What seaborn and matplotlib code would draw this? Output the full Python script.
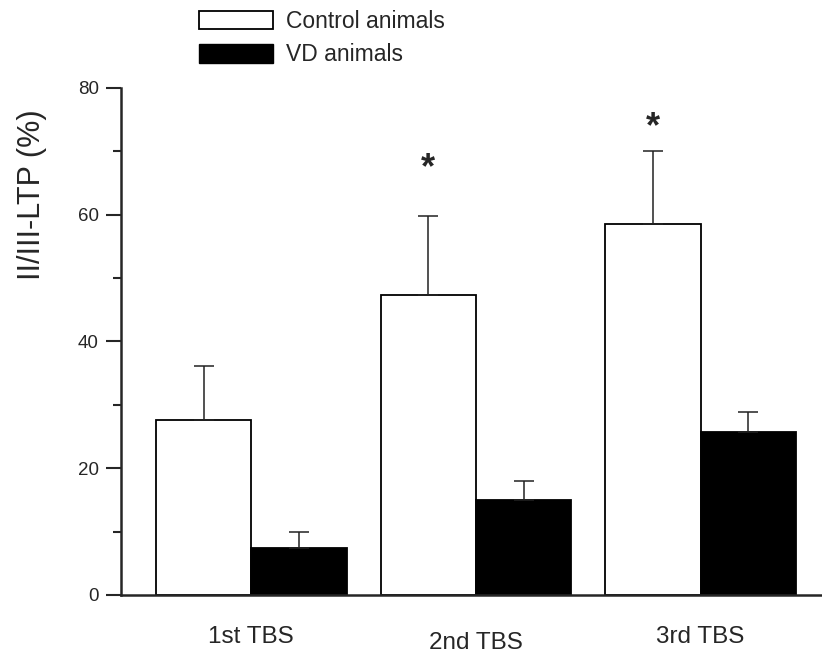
import matplotlib
matplotlib.use("Agg")
import matplotlib.pyplot as plt
import matplotlib.transforms as mtrans
from matplotlib.patches import Patch
from matplotlib.ticker import MultipleLocator
import seaborn as sns
import pandas as pd

# values
stimuli = ["1st TBS", "2nd TBS", "3rd TBS"]
groups = ["Control animals", "VD animals"]
control_mean = [27.6, 47.3, 58.5]
control_se = [8.5, 12.5, 11.5]
vd_mean = [7.4, 15.0, 25.7]
vd_se = [2.5, 3.0, 3.2]
significant = [False, True, True]
star_y = [0, 67.2, 73.8]

df = pd.DataFrame({
    "stim": stimuli * 2,
    "group": [groups[0]] * 3 + [groups[1]] * 3,
    "ltp": control_mean + vd_mean,
})

sns.set_style("ticks")
plt.rcParams["font.family"] = ["Liberation Sans", "DejaVu Sans"]

fig = plt.figure(figsize=(8.22, 6.56), dpi=100)
ax = fig.add_axes([0.1472, 0.093, 0.8528, 0.7729])

sns.barplot(data=df, x="stim", y="ltp", hue="group", order=stimuli,
            hue_order=groups, palette=["white", "black"], width=0.85,
            edgecolor="black", linewidth=1.3, errorbar=None, legend=False, ax=ax)

# upper-only SE bars
for cont, se in zip(ax.containers, [control_se, vd_se]):
    xs = [b.get_x() + b.get_width() / 2 for b in cont]
    ys = [b.get_height() for b in cont]
    ax.errorbar(xs, ys, yerr=[[0] * len(se), se], fmt="none", ecolor="#222222",
                elinewidth=1.1, capsize=7, capthick=1.1, zorder=3)

# significance stars over control bars
for bar, sig, sy in zip(ax.containers[0], significant, star_y):
    if sig:
        ax.text(bar.get_x() + bar.get_width() / 2, sy, "*", ha="center", va="center",
                fontsize=26, fontweight="bold")

ax.set_xlim(-0.58, 2.54)
ax.set_ylim(0, 80)
ax.yaxis.set_major_locator(MultipleLocator(20))
ax.yaxis.set_minor_locator(MultipleLocator(10))
ax.tick_params(axis="y", which="major", length=11, width=1.5, labelsize=13.5, pad=5)
ax.tick_params(axis="y", which="minor", length=6, width=1.5)
ax.tick_params(axis="x", length=0, labelsize=17.5, pad=22)
ax.set_xlabel("")
ax.set_ylabel("II/III-LTP (%)", fontsize=22)
ax.yaxis.set_label_coords(-0.105, 0.79)
sns.despine(ax=ax)
for s in ["left", "bottom"]:
    ax.spines[s].set_linewidth(1.8)

# the middle category label sits a bit lower in the original
lbl = ax.get_xticklabels()[1]
lbl.set_transform(lbl.get_transform() + mtrans.ScaledTranslation(0, -5 / 72, fig.dpi_scale_trans))

handles = [Patch(facecolor="white", edgecolor="black", linewidth=1.3),
           Patch(facecolor="black", edgecolor="black")]
fig.legend(handles, groups, loc="upper left", bbox_to_anchor=(0.234, 0.995),
           frameon=False, fontsize=16.5, handlelength=3.2, handleheight=0.85,
           handletextpad=0.6, labelspacing=0.45, borderpad=0.3, borderaxespad=0)

fig.savefig("out.png", dpi=100)
